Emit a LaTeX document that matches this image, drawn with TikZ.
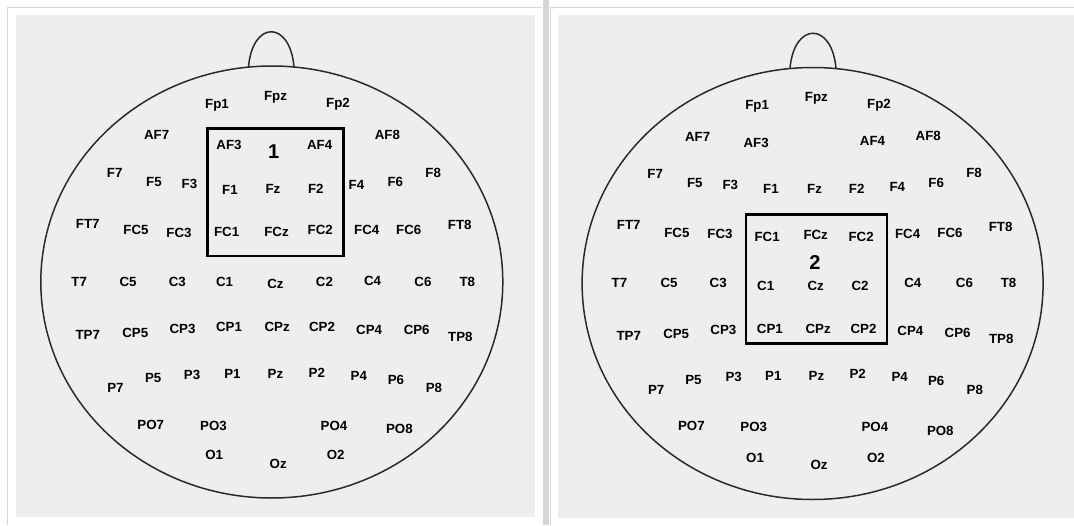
\documentclass[tikz,border=0pt]{standalone}
\usepackage{fontspec}
\setmainfont{Liberation Sans}
\definecolor{panelgray}{HTML}{EEEEEE}
\definecolor{framegray}{HTML}{D6D6D6}
\definecolor{headline}{HTML}{2A2A2A}

\begin{document}
\begin{tikzpicture}[x=1pt,y=-1pt,
  elec/.style={font=\bfseries\fontsize{13.3}{15}\selectfont,inner sep=0pt,text height=9.5pt,text depth=0pt,text=black},
  head/.style={draw=headline,line width=1.5pt},
  roi/.style={draw=black,line width=2.8pt},
  roinum/.style={font=\bfseries\fontsize{20}{22}\selectfont,inner sep=0pt}]
\useasboundingbox (0,0) rectangle (1074,525);
\fill[white] (0,0) rectangle (1074,525);
% frames of the two panels
\draw[framegray,line width=1pt] (7.5,525) -- (7.5,7.5) -- (542,7.5);
\fill[framegray] (543,0) rectangle (549,525);
\draw[framegray,line width=1pt] (550.5,525) -- (550.5,7.5) -- (1074,7.5);
\fill[panelgray] (16,15) rectangle (535,517);
\fill[panelgray] (558,15) rectangle (1074,518);

% left head
\coordinate (L-c) at (271.8,282);
\coordinate (L-noseL) at (248.5,67);
\coordinate (L-noseR) at (294,67);
\draw[head] (L-c) ellipse [x radius=231,y radius=216];
\draw[head] (L-noseL) .. controls +(4,-47) and +(-4,-47) .. (L-noseR);
\draw[roi] (207.6,128.3) rectangle (343.3,256);
\node[roinum] (L-roinum) at (273.8,151.7) {1};
\foreach \n/\x/\y in {Fp1/217/104,Fpz/275.5/96,Fp2/338/103,
  AF7/156.7/135,AF3/229/144.3,AF4/319.6/144.3,AF8/387.4/135,
  F7/114.7/172.7,F5/154/181.7,F3/189.4/184,F1/230/189.3,Fz/273/188.3,F2/315.8/188.3,F4/356.4/185,F6/395.3/181.7,F8/433.2/172.7,
  FT7/87.8/224,FC5/136/229.3,FC3/179/232.3,FC1/226.6/231.7,FCz/276.5/231.7,FC2/320.2/230,FC4/366.7/230,FC6/408.7/229.3,FT8/459.7/225,
  T7/79.2/281.7,C5/128/281.7,C3/177.3/281.7,C1/224.5/281.7,Cz/275.5/284,C2/324.4/281.7,C4/372.6/280.7,C6/422.9/281.7,T8/467.3/281.7,
  TP7/87.8/335,CP5/135.3/332.7,CP3/182.5/328.3,CP1/229/326.7,CPz/277.2/326.7,CP2/322/326.7,CP4/369.1/329.3,CP6/416.7/330,TP8/460.4/336.7,
  P7/115.4/387.7,P5/153.2/377.3,P3/192.1/375,P1/232.4/373.3,Pz/275.5/373.3,P2/316.8/372.3,P4/358.8/375.7,P6/396/380,P8/433.9/387.7,
  PO7/150.8/424.3,PO3/213.5/425.7,PO4/334/425.7,PO8/399.4/429,
  O1/214.2/455,Oz/278.2/464,O2/335.7/455}
  \node[elec] (L-\n) at (\x,\y) {\n};

% right head
\coordinate (R-c) at (812.6,283.5);
\coordinate (R-noseL) at (790,68.5);
\coordinate (R-noseR) at (836,68.5);
\draw[head] (R-c) ellipse [x radius=230.5,y radius=216];
\draw[head] (R-noseL) .. controls +(4,-47) and +(-4,-47) .. (R-noseR);
\draw[roi] (746,214.3) rectangle (887,343.3);
\node[roinum] (R-roinum) at (815,262.7) {2};
\foreach \n/\x/\y in {Fp1/757.1/105,Fpz/816.4/97,Fp2/879/104,
  AF7/697.6/136.7,AF3/756.1/142.7,AF4/872.5/141,AF8/928.3/136,
  F7/655.2/173.3,F5/694.8/182.7,F3/730.3/185,F1/770.9/189,Fz/814.6/188.3,F2/856.7/188.3,F4/897.3/186.7,F6/936.2/182.7,F8/974.1/172.7,
  FT7/628.7/225,FC5/676.9/232.3,FC3/720/233.3,FC1/767.1/236.7,FCz/815.7/234.3,FC2/861.1/236.7,FC4/907.6/233.3,FC6/950/232.3,FT8/1000.6/226.7,
  T7/619.4/282.7,C5/669/282.7,C3/718.2/282.7,C1/765.7/286,Cz/815.7/286,C2/860.1/286,C4/912.8/282.7,C6/964.4/282.7,T8/1008.5/282.7,
  TP7/628.7/336,CP5/676.2/334,CP3/723.4/330,CP1/769.9/328.3,CPz/818.1/328.3,CP2/863.5/328.3,CP4/910.4/330.7,CP6/957.6/332.7,TP8/1001.3/338.3,
  P7/656.2/389.3,P5/693.4/380,P3/733.7/376.7,P1/773.3/375.7,Pz/816.4/376,P2/857.7/374,P4/899.7/376.7,P6/936.2/380.7,P8/974.8/389.3,
  PO7/691.4/426,PO3/753.7/426.7,PO4/874.9/426.7,PO8/940.3/430.7,
  O1/755.1/457.7,Oz/819.1/465,O2/876/457.3}
  \node[elec] (R-\n) at (\x,\y) {\n};
\end{tikzpicture}
\end{document}
